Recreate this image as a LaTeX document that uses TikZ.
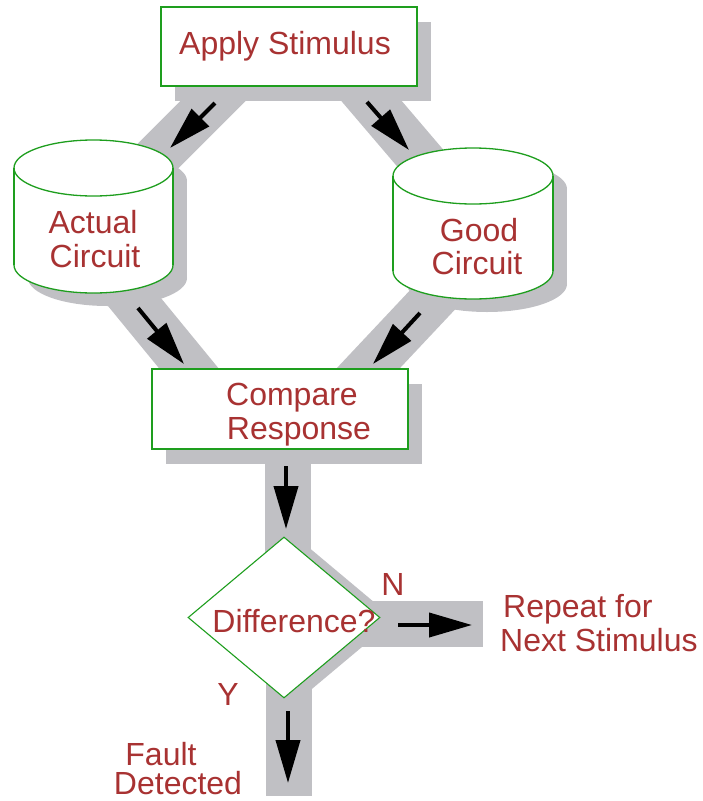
\documentclass[tikz,border=0pt]{standalone}
\usepackage{fontspec}
\setmainfont{Liberation Sans}
\usetikzlibrary{shapes.geometric,shadows,arrows.meta,backgrounds}
\definecolor{txt}{RGB}{168,50,50}
\definecolor{grn}{RGB}{30,158,30}
\definecolor{bandgrey}{RGB}{192,192,196}
% cylinder: name, cx, top ellipse y, bottom ellipse y, rx, ry
\newcommand\mycyl[6]{%
  \coordinate (#1) at (#2,{(#3+#4)/2});
  \fill[bandgrey] ({#2-#5+14},{#3+13}) rectangle ({#2+#5+14},{#4+13});
  \fill[bandgrey] ({#2+14},{#3+13}) ellipse [x radius=#5, y radius=#6];
  \fill[bandgrey] ({#2+14},{#4+13}) ellipse [x radius=#5, y radius=#6];
  \fill[white] ({#2-#5},#3) rectangle ({#2+#5},#4);
  \fill[white] (#2,#4) ellipse [x radius=#5, y radius=#6];
  \draw[cylline,fill=white] (#2,#3) ellipse [x radius=#5, y radius=#6];
  \draw[cylline] ({#2-#5},#3) -- ({#2-#5},#4);
  \draw[cylline] ({#2+#5},#3) -- ({#2+#5},#4);
  \begin{scope}
    \clip ({#2-#5-3},#4) rectangle ({#2+#5+3},{#4+#6+3});
    \draw[cylline] (#2,#4) ellipse [x radius=#5, y radius=#6];
  \end{scope}}
\begin{document}
\begin{tikzpicture}[x=1pt,y=-1pt,
  lbl/.style={text=txt,font=\fontsize{32}{35}\selectfont,inner sep=0pt,anchor=base},
  boxnode/.style={draw=grn,line width=1.3pt,fill=white,minimum width=256pt,minimum height=79pt,inner sep=0pt,
    drop shadow={shadow xshift=14pt,shadow yshift=-15pt,fill=bandgrey,opacity=1}},
  cylline/.style={draw=grn,line width=1.3pt},
  dia/.style={diamond,aspect=1.19,draw=grn,line width=1.1pt,fill=white,inner sep=0pt,
    minimum width=192pt,minimum height=161pt,
    drop shadow={shadow xshift=15pt,shadow yshift=-2pt,fill=bandgrey,opacity=1}},
  band/.style={draw=bandgrey,line width=46pt},
  arr/.style={draw=black,line width=4pt,-{Triangle[length=43pt,width=24pt]}}]
\useasboundingbox (0,0) rectangle (702,801);

% nodes
\node[boxnode] (apply) at (289,46.5) {};
\mycyl{actual}{93.5}{168}{265}{79.5}{28}
\mycyl{good}{473}{176}{271}{80}{28}
\node[boxnode,minimum height=80pt] (compare) at (280,409) {};
\node[dia] (diff) at (284,617.5) {};

% band coordinates
\coordinate (b1s) at (250,64);  \coordinate (b1e) at (130,184);
\coordinate (b2s) at (340,64);  \coordinate (b2e) at (450,193);
\coordinate (b3s) at (100,260); \coordinate (b3e) at (223,410);
\coordinate (b4s) at (470,260); \coordinate (b4e) at (329,410);
\coordinate (b5s) at (287.5,440); \coordinate (b5e) at (287.5,570);
\coordinate (b6s) at (350,623.5); \coordinate (b6e) at (483,623.5);
\coordinate (b7s) at (289,660); \coordinate (b7e) at (289,796);

\begin{scope}[on background layer]
  \draw[band] (b1s) -- (b1e);
  \draw[band] (b2s) -- (b2e);
  \draw[band] (b3s) -- (b3e);
  \draw[band] (b4s) -- (b4e);
  \draw[band] (b5s) -- (b5e);
  \draw[band] (b6s) -- (b6e);
  \draw[band] (b7s) -- (b7e);
\end{scope}

% arrows
\coordinate (a1s) at (215,103); \coordinate (a1e) at (170,148);
\coordinate (a2s) at (367,102); \coordinate (a2e) at (409,150);
\coordinate (a3s) at (138,308); \coordinate (a3e) at (184,364);
\coordinate (a4s) at (420,313); \coordinate (a4e) at (373,364);
\coordinate (a5s) at (286,466); \coordinate (a5e) at (286,529);
\coordinate (a6s) at (398,625); \coordinate (a6e) at (472,625);
\coordinate (a7s) at (288,711); \coordinate (a7e) at (288,783);
\draw[arr] (a1s) -- (a1e);
\draw[arr] (a2s) -- (a2e);
\draw[arr] (a3s) -- (a3e);
\draw[arr] (a4s) -- (a4e);
\draw[arr] (a5s) -- (a5e);
\draw[arr] (a6s) -- (a6e);
\draw[arr] (a7s) -- (a7e);

% texts
\node[lbl] (t1) at (285,54.5) {Apply Stimulus};
\node[lbl] (t2) at (93,233) {Actual};
\node[lbl] (t3) at (95,267) {Circuit};
\node[lbl] (t4) at (479,241) {Good};
\node[lbl] (t5) at (477,274) {Circuit};
\node[lbl] (t6) at (292,405) {Compare};
\node[lbl] (t7) at (299,439) {Response};
\node[lbl] (t8) at (294,632) {Difference?};
\node[lbl] (t9) at (393,595) {N};
\node[lbl] (t10) at (228,705) {Y};
\node[lbl,anchor=base west] (t11) at (503,617) {Repeat for};
\node[lbl,anchor=base west] (t12) at (500,651) {Next Stimulus};
\node[lbl] (t13) at (161,765) {Fault};
\node[lbl] (t14) at (178,794) {Detected};
\end{tikzpicture}
\end{document}
